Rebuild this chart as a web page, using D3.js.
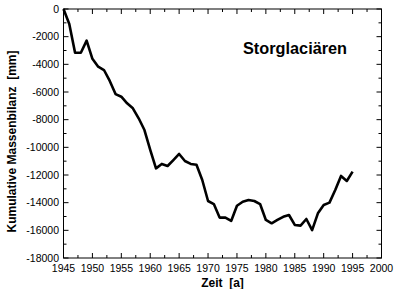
<!DOCTYPE html>
<html><head><meta charset="utf-8">
<script src="https://cdn.jsdelivr.net/npm/d3@7"></script>
<style>body{margin:0;background:#fff}svg{display:block;font-family:"Liberation Sans",Arial,sans-serif}</style>
</head><body><svg id="c" width="397" height="289"></svg>
<script>
const years = [1945,1946,1947,1948,1949,1950,1951,1952,1953,1954,1955,1956,1957,1958,1959,1960,1961,1962,1963,1964,1965,1966,1967,1968,1969,1970,1971,1972,1973,1974,1975,1976,1977,1978,1979,1980,1981,1982,1983,1984,1985,1986,1987,1988,1989,1990,1991,1992,1993,1994,1995];
const massBalance = [0,-1080,-3160,-3160,-2290,-3600,-4170,-4410,-5200,-6150,-6340,-6820,-7180,-7900,-8750,-10190,-11520,-11200,-11350,-10920,-10480,-10990,-11200,-11260,-12360,-13880,-14100,-15080,-15080,-15320,-14220,-13930,-13810,-13880,-14100,-15250,-15490,-15250,-15020,-14890,-15610,-15660,-15180,-15980,-14770,-14170,-14000,-13090,-12070,-12430,-11760];
const xTicks = [1945,1950,1955,1960,1965,1970,1975,1980,1985,1990,1995,2000];
const yTicks = [0,-2000,-4000,-6000,-8000,-10000,-12000,-14000,-16000,-18000];
const title = "Storglaciären";
const xLabel = "Zeit  [a]";
const yLabel = "Kumulative Massenbilanz  [mm]";

const svg = d3.select("#c");
const L = 63.5, R = 381.5, T = 9, B = 258;
const x = d3.scaleLinear().domain([1945,2000]).range([L,R]);
const y = d3.scaleLinear().domain([-18000,0]).range([B,T]);

const xMinor = d3.range(1945,2000.1,2.5);
const yMinor = d3.range(-18000,0.1,1000);

// ticks (inward) on all four sides
const tg = svg.append("g").attr("stroke","#000").attr("stroke-width",1);
xMinor.forEach(v=>{
  const len = (v%5===0)?5:3;
  tg.append("line").attr("x1",x(v)).attr("x2",x(v)).attr("y1",B).attr("y2",B-len);
  tg.append("line").attr("x1",x(v)).attr("x2",x(v)).attr("y1",T).attr("y2",T+len);
});
yMinor.forEach(v=>{
  const len = (v%2000===0)?5:3;
  tg.append("line").attr("y1",y(v)).attr("y2",y(v)).attr("x1",L).attr("x2",L+len);
  tg.append("line").attr("y1",y(v)).attr("y2",y(v)).attr("x1",R).attr("x2",R-len);
});
svg.append("rect").attr("x",L).attr("y",T).attr("width",R-L).attr("height",B-T)
  .attr("fill","none").attr("stroke","#000").attr("stroke-width",1);

// tick labels
svg.append("g").selectAll("text").data(xTicks).join("text")
  .attr("x",d=>x(d)).attr("y",271.5).attr("text-anchor","middle")
  .attr("font-size",10.5).text(d=>d);
svg.append("g").selectAll("text").data(yTicks).join("text")
  .attr("x",59).attr("y",d=>y(d)+3.5).attr("text-anchor","end")
  .attr("font-size",10.5).text(d=>d);

// axis titles
svg.append("text").attr("x",(L+R)/2).attr("y",287).attr("text-anchor","middle")
  .attr("font-size",12).attr("font-weight","bold").style("white-space","pre").text(xLabel);
svg.append("text").attr("transform",`translate(16,${(T+B)/2+8}) rotate(-90)`)
  .attr("text-anchor","middle").attr("font-size",12).attr("font-weight","bold")
  .style("white-space","pre").text(yLabel);

// title
svg.append("text").attr("x",243).attr("y",54).attr("font-size",16.3).attr("font-weight","bold").text(title);

// line
svg.append("path").datum(years.map((yr,i)=>[yr,massBalance[i]]))
  .attr("fill","none").attr("stroke","#000").attr("stroke-width",2.6).attr("stroke-linejoin","round")
  .attr("d",d3.line().x(d=>x(d[0])).y(d=>y(d[1])));
</script></body></html>
